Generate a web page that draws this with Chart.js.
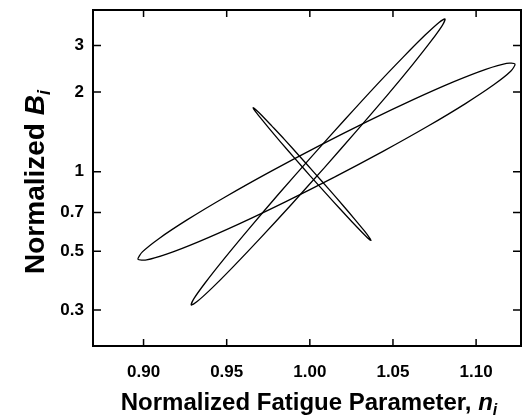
<!DOCTYPE html>
<html>
<head>
<meta charset="utf-8">
<script src="https://cdn.jsdelivr.net/npm/chart.js@4.4.1/dist/chart.umd.min.js"></script>
<style>
  html, body { margin: 0; padding: 0; background: #fff; }
  #wrap { width: 522px; height: 418px; }
</style>
</head>
<body>
<div id="wrap"><canvas id="ellipseChart"></canvas></div>
<script>
// axis ticks
const xTicks = [0.90, 0.95, 1.00, 1.05, 1.10];
const xTickLabels = ['0.90', '0.95', '1.00', '1.05', '1.10'];
const yTicks = [0.3, 0.5, 0.7, 1, 2, 3];
const yTickLabels = ['0.3', '0.5', '0.7', '1', '2', '3'];

// outline points (n, B), each loop closed
const wideN = [1.0148, 0.9853, 0.9575, 0.9333, 0.9143, 0.9018, 0.8966, 0.8993, 0.9094, 0.9264, 0.9491, 0.9760, 1.0052, 1.0347, 1.0625, 1.0867, 1.1058, 1.1183, 1.1234, 1.1208, 1.1106, 1.0936, 1.0709, 1.0440, 1.0148];
const wideB = [0.9533, 0.7685, 0.6344, 0.5435, 0.4883, 0.4634, 0.4662, 0.4971, 0.5591, 0.6583, 0.8021, 0.9982, 1.2497, 1.5504, 1.8778, 2.1919, 2.4399, 2.5708, 2.5554, 2.3969, 2.1309, 1.8099, 1.4852, 1.1936, 0.9533];

const steepN = [1.0088, 0.9889, 0.9701, 0.9537, 0.9408, 0.9322, 0.9287, 0.9303, 0.9370, 0.9483, 0.9635, 0.9815, 1.0012, 1.0211, 1.0398, 1.0563, 1.0692, 1.0777, 1.0813, 1.0797, 1.0730, 1.0617, 1.0465, 1.0284, 1.0088];
const steepB = [1.0359, 0.7517, 0.5593, 0.4355, 0.3610, 0.3225, 0.3131, 0.3309, 0.3792, 0.4669, 0.6091, 0.8266, 1.1429, 1.5753, 2.1171, 2.7191, 3.2804, 3.6707, 3.7825, 3.5789, 3.1231, 2.5363, 1.9442, 1.4326, 1.0359];

const crossN = [1.0002, 0.9911, 0.9826, 0.9755, 0.9701, 0.9668, 0.9659, 0.9674, 0.9713, 0.9771, 0.9847, 0.9933, 1.0025, 1.0117, 1.0201, 1.0273, 1.0327, 1.0359, 1.0368, 1.0353, 1.0315, 1.0256, 1.0181, 1.0094, 1.0002];
const crossB = [0.9646, 1.1209, 1.2909, 1.4586, 1.6041, 1.7057, 1.7464, 1.7191, 1.6283, 1.4899, 1.3249, 1.1540, 0.9942, 0.8555, 0.7430, 0.6575, 0.5979, 0.5623, 0.5491, 0.5579, 0.5890, 0.6437, 0.7238, 0.8310, 0.9646];

const FONT = "'Liberation Sans', Arial, Helvetica, sans-serif";

function toPoints(ns, bs) {
  return ns.map((n, i) => ({ x: n, y: bs[i] }));
}

function loop(label, ns, bs) {
  return {
    label: label,
    data: toPoints(ns, bs),
    showLine: true,
    borderColor: '#000',
    borderWidth: 1.3,
    pointRadius: 0,
    tension: 0.25,
    fill: false
  };
}

// draws a title made of several font runs, centred on cx at baseline baseY
function drawRuns(ctx, runs, cx, baseY) {
  let total = 0;
  runs.forEach(r => { ctx.font = r.font; total += ctx.measureText(r.text).width; });
  let x = cx - total / 2;
  runs.forEach(r => {
    ctx.font = r.font;
    ctx.fillText(r.text, x, baseY + (r.dy || 0));
    x += ctx.measureText(r.text).width;
  });
}

const framePlugin = {
  id: 'frame',
  afterDraw(chart) {
    const { ctx, chartArea: a, scales: { x, y } } = chart;
    ctx.save();
    ctx.strokeStyle = '#000';
    ctx.lineWidth = 1.5;
    ctx.beginPath();
    xTicks.forEach(v => {
      const px = x.getPixelForValue(v);
      ctx.moveTo(px, a.bottom); ctx.lineTo(px, a.bottom - 7);
      ctx.moveTo(px, a.top); ctx.lineTo(px, a.top + 7);
    });
    yTicks.forEach(v => {
      const py = y.getPixelForValue(v);
      ctx.moveTo(a.left, py); ctx.lineTo(a.left + 8, py);
      ctx.moveTo(a.right, py); ctx.lineTo(a.right - 8, py);
    });
    ctx.stroke();
    ctx.lineWidth = 2;
    ctx.strokeRect(a.left, a.top, a.right - a.left, a.bottom - a.top);

    ctx.fillStyle = '#000';
    ctx.textBaseline = 'alphabetic';
    ctx.textAlign = 'left';

    drawRuns(ctx, [
      { text: 'Normalized Fatigue Parameter, ', font: 'bold 24px ' + FONT },
      { text: 'n', font: 'italic bold 24px ' + FONT },
      { text: 'i', font: 'italic bold 16px ' + FONT, dy: 5 }
    ], (a.left + a.right) / 2 + 2, a.bottom + 64);

    ctx.translate(44, (a.top + a.bottom) / 2 + 4);
    ctx.rotate(-Math.PI / 2);
    drawRuns(ctx, [
      { text: 'Normalized ', font: 'bold 28px ' + FONT },
      { text: 'B', font: 'italic bold 28px ' + FONT },
      { text: 'i', font: 'italic bold 18px ' + FONT, dy: 6 }
    ], 0, 0);
    ctx.restore();
  }
};

const ctx = document.getElementById('ellipseChart').getContext('2d');
const ellipseChart = new Chart(ctx, {
  type: 'scatter',
  data: {
    datasets: [
      loop('wide', wideN, wideB),
      loop('steep', steepN, steepB),
      loop('cross', crossN, crossB)
    ]
  },
  options: {
    responsive: true,
    maintainAspectRatio: false,
    animation: false,
    layout: { padding: { top: 10, right: 1, left: 0, bottom: 0 } },
    plugins: { legend: { display: false }, tooltip: { enabled: false } },
    scales: {
      x: {
        type: 'linear',
        min: 0.8696,
        max: 1.127,
        grid: { display: false, drawTicks: false },
        border: { display: false },
        afterBuildTicks: s => { s.ticks = xTicks.map(v => ({ value: v })); },
        afterFit: s => { s.height = 72; s.paddingLeft = 0; s.paddingRight = 0; },
        ticks: {
          padding: 16,
          color: '#000',
          font: { family: FONT, size: 17, weight: 'bold' },
          callback: (v) => xTickLabels[xTicks.findIndex(t => Math.abs(t - v) < 1e-6)]
        }
      },
      y: {
        type: 'logarithmic',
        min: 0.219,
        max: 4.09,
        grid: { display: false, drawTicks: false },
        border: { display: false },
        afterBuildTicks: s => { s.ticks = yTicks.map(v => ({ value: v })); },
        afterFit: s => { s.width = 93; s.paddingTop = 0; s.paddingBottom = 0; },
        ticks: {
          padding: 9,
          color: '#000',
          font: { family: FONT, size: 17, weight: 'bold' },
          callback: (v) => yTickLabels[yTicks.findIndex(t => Math.abs(t - v) < 1e-6)]
        }
      }
    }
  },
  plugins: [framePlugin]
});
</script>
</body>
</html>
